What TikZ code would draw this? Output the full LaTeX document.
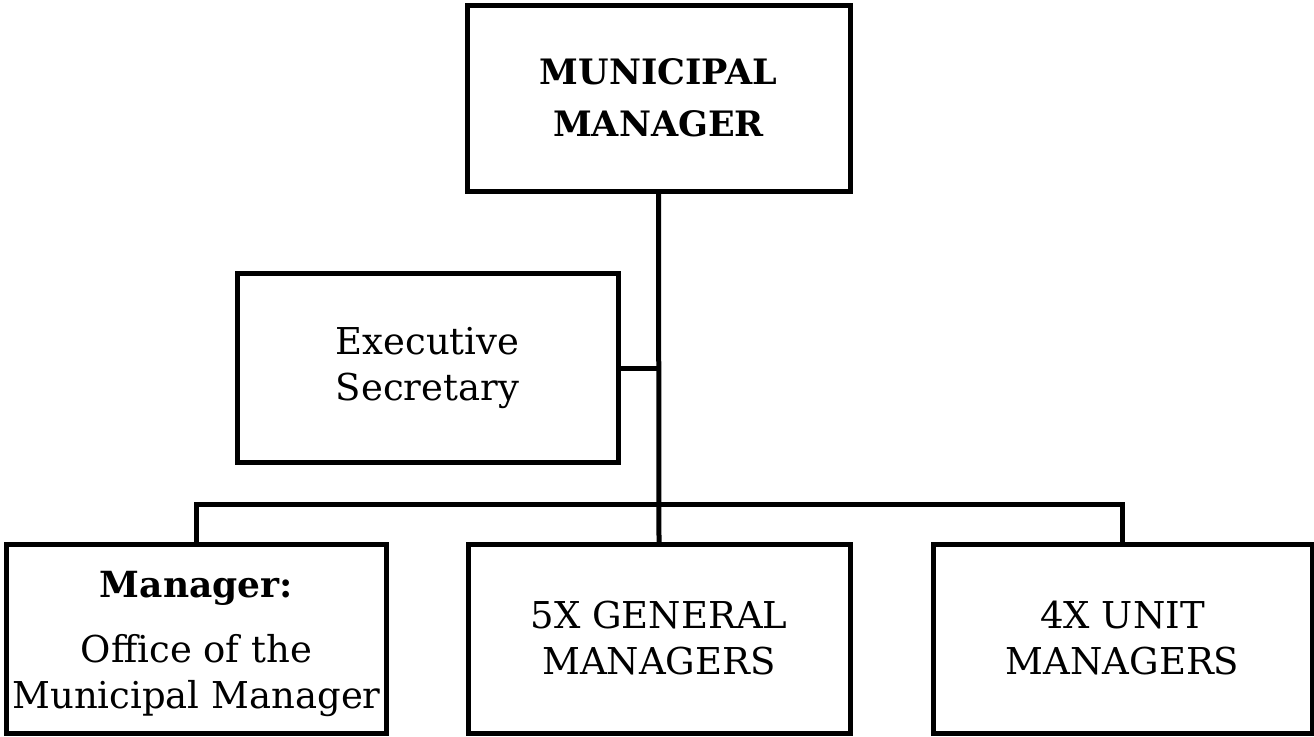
\documentclass[tikz,border=0pt]{standalone}
\usepackage{fontspec}
\setmainfont{DejaVu Serif}
\begin{document}
\begin{tikzpicture}[x=1pt,y=-1pt,
  orgbox/.style={draw,line width=5pt,rectangle,inner sep=0pt,align=center,
    font=\fontsize{37}{46}\selectfont},
  link/.style={line width=5pt,line cap=rect}]
\useasboundingbox (0,0) rectangle (1314,736);
% boxes
\node[orgbox,minimum width=383pt,minimum height=186pt,
  font=\fontsize{35}{52}\selectfont\bfseries] (mm) at (658.5,98) {MUNICIPAL\\MANAGER};
\node[orgbox,minimum width=381pt,minimum height=189pt] (es) at (427.5,368) {Executive\\Secretary};
\node[orgbox,minimum width=380pt,minimum height=189pt] (om) at (196.5,638.5) {};
\node[align=center,inner sep=0pt,font=\fontsize{37}{46}\selectfont] (omtext) at ([yshift=-5pt]om.center)
  {{\fontsize{36}{46}\selectfont\bfseries Manager:}\\[19pt]Office of the\\Municipal Manager};
\node[orgbox,minimum width=382pt,minimum height=189pt] (gm) at (659,638.5) {5X GENERAL\\MANAGERS};
\node[orgbox,minimum width=379pt,minimum height=189pt] (um) at (1122.5,638.5) {4X UNIT\\MANAGERS};
% connectors
\coordinate (bus) at (mm.south |- 0,504);
\draw[link] (mm.south) -- (gm.north);
\draw[link] (es.east) -- (es.east -| mm.south);
\draw[link] (om.north) -- (om.north |- bus) -- (um.north |- bus) -- (um.north);
\end{tikzpicture}
\end{document}
